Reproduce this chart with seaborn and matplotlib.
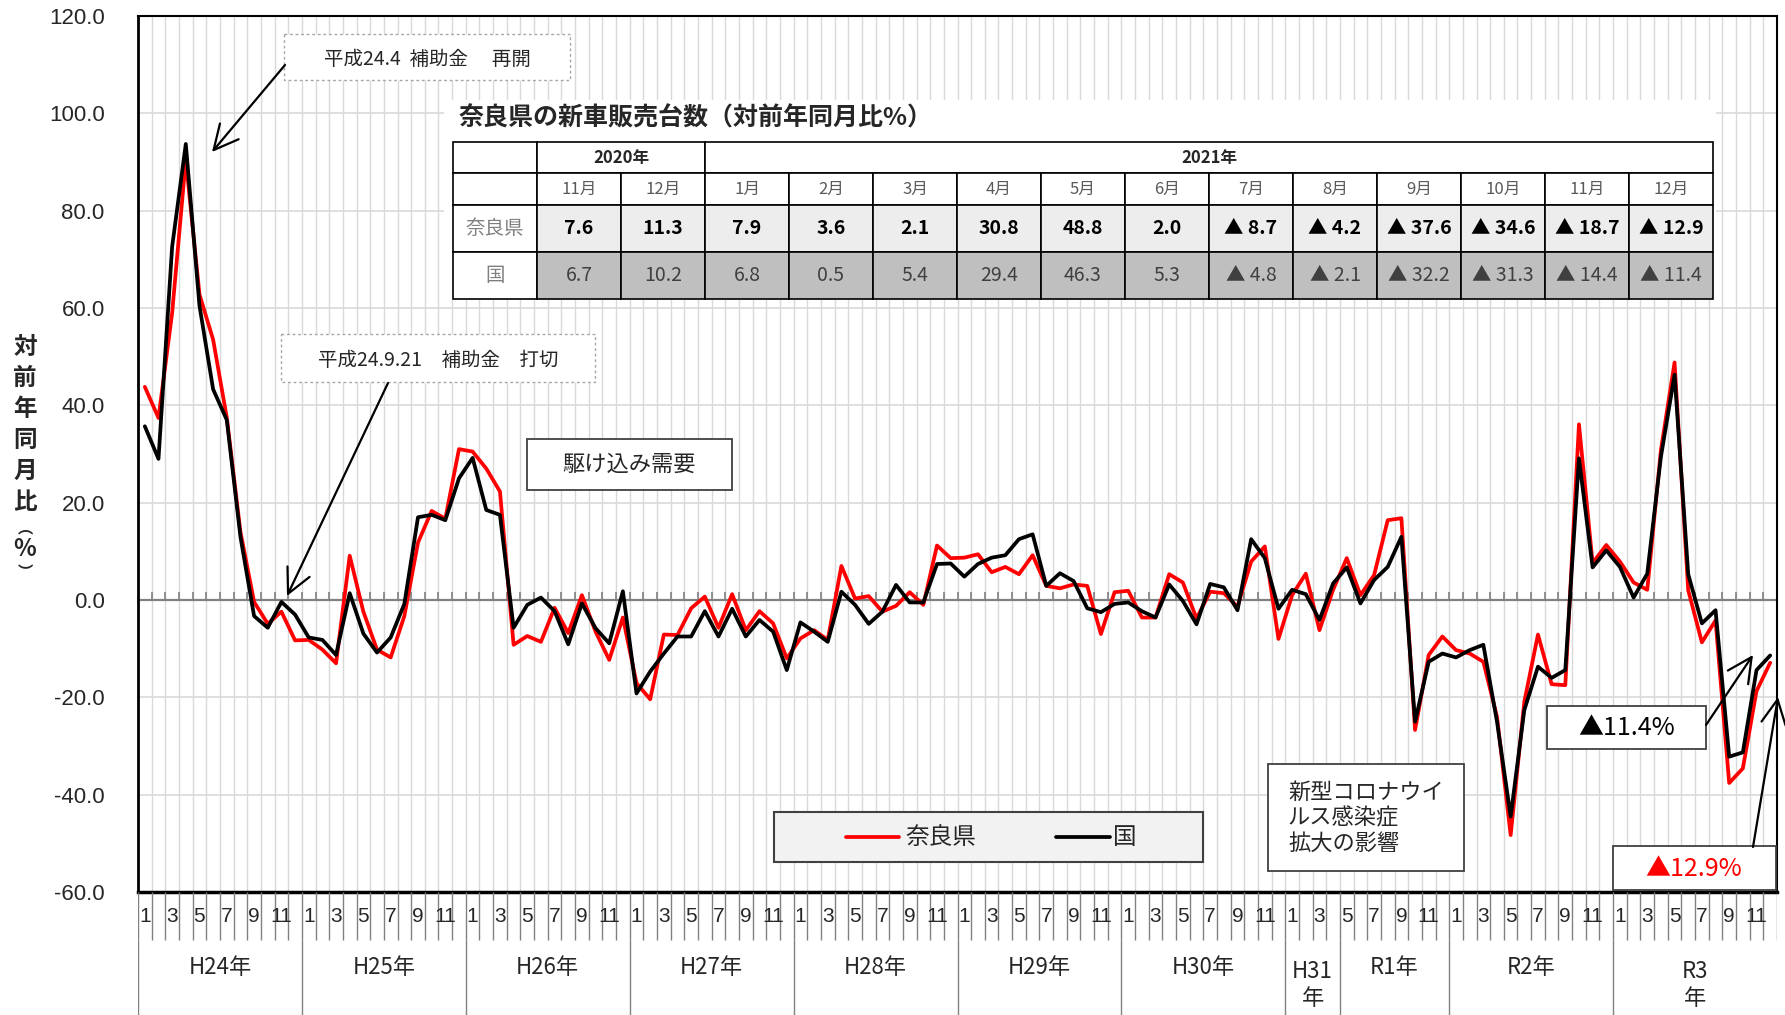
import matplotlib
matplotlib.use("Agg")
import numpy as np
import pandas as pd
import seaborn as sns
from matplotlib import pyplot as plt
from matplotlib.patches import Rectangle

# 対前年同月比 (%), H24.1 - R3.12
nara = [43.8, 37.4, 59.0, 90.5, 62.8, 53.5, 37.5, 14.0, -0.4, -4.9, -2.4, -8.3,
        -8.2, -10.2, -13.0, 9.1, -2.4, -10.2, -11.8, -3.3, 11.8, 18.3, 16.7, 31.0,
        30.5, 27.0, 22.3, -9.2, -7.4, -8.6, -1.6, -6.8, 1.0, -6.5, -12.3, -3.6,
        -17.1, -20.4, -7.1, -7.2, -1.7, 0.7, -5.7, 1.2, -6.2, -2.3, -4.8, -12.0,
        -7.9, -6.2, -8.2, 7.0, 0.3, 0.8, -2.4, -1.2, 1.6, -1.0, 11.2, 8.6,
        8.7, 9.4, 5.7, 6.8, 5.3, 9.2, 2.9, 2.4, 3.2, 2.9, -7.0, 1.6,
        1.9, -3.6, -3.6, 5.3, 3.6, -3.8, 1.7, 1.4, -1.4, 7.9, 11.0, -8.0,
        1.0, 5.4, -6.2, 2.1, 8.6, 1.0, 5.1, 16.4, 16.8, -26.7, -11.3, -7.5,
        -10.3, -11.0, -12.7, -24.0, -48.3, -20.9, -7.1, -17.3, -17.5, 36.1, 7.6, 11.3,
        7.9, 3.6, 2.1, 30.8, 48.8, 2.0, -8.7, -4.2, -37.6, -34.6, -18.7, -12.9]
kuni = [35.7, 29.0, 72.6, 93.7, 60.5, 43.3, 37.0, 13.0, -3.3, -5.7, -0.4, -3.0,
        -7.7, -8.2, -11.3, 1.4, -6.9, -10.8, -7.7, -0.8, 17.0, 17.5, 16.4, 25.0,
        29.2, 18.5, 17.5, -5.7, -1.0, 0.5, -2.3, -9.1, -0.7, -5.8, -8.9, 1.8,
        -19.2, -14.7, -11.0, -7.5, -7.5, -2.3, -7.5, -1.8, -7.5, -4.1, -6.5, -14.4,
        -4.6, -6.5, -8.6, 1.7, -1.0, -4.9, -2.4, 3.1, -0.5, -0.5, 7.4, 7.5,
        4.8, 7.4, 8.7, 9.2, 12.5, 13.5, 2.9, 5.5, 3.9, -1.7, -2.5, -0.8,
        -0.5, -2.3, -3.6, 3.2, -0.2, -5.0, 3.3, 2.6, -2.1, 12.5, 8.6, -1.8,
        2.1, 1.2, -4.1, 3.4, 6.7, -0.7, 4.1, 6.8, 13.0, -25.0, -12.7, -11.0,
        -11.8, -10.3, -9.2, -25.0, -44.5, -22.6, -13.7, -16.0, -14.4, 29.1, 6.7, 10.2,
        6.8, 0.5, 5.4, 29.4, 46.3, 5.3, -4.8, -2.1, -32.2, -31.3, -14.4, -11.4]

series_names = ['奈良県', '国']
series_colors = ['#ff0000', '#000000']
year_labels = ['H24年', 'H25年', 'H26年', 'H27年', 'H28年', 'H29年', 'H30年',
               'H31\n年', 'R1年', 'R2年', 'R3\n年']
year_months = [12, 12, 12, 12, 12, 12, 12, 4, 8, 12, 12]
month_ticks = ['1', '', '3', '', '5', '', '7', '', '9', '', '11', '']
y_ticks = [-60, -40, -20, 0, 20, 40, 60, 80, 100, 120]
ylabel_chars = ['対', '前', '年', '同', '月', '比', '︵', '%', '︶']
table_title = '奈良県の新車販売台数（対前年同月比%）'
table_years = ['2020年', '2021年']
table_year_cols = [2, 12]
table_months = ['11月', '12月', '1月', '2月', '3月', '4月', '5月', '6月',
                '7月', '8月', '9月', '10月', '11月', '12月']

W, H = 1785, 1015
sns.set_style('white')
plt.rcParams['font.family'] = ['Noto Sans CJK JP', 'DejaVu Sans']
plt.rcParams['axes.unicode_minus'] = False

fig = plt.figure(figsize=(W / 100, H / 100), dpi=100)
L, R, T, B = 138, 1777, 16, 892
ax = fig.add_axes([L / W, 1 - B / H, (R - L) / W, (B - T) / H])

n = len(nara)
df = pd.DataFrame({
    'pos': np.tile(np.arange(n) + 0.5, 2),
    'value': nara + kuni,
    'series': [series_names[0]] * n + [series_names[1]] * n,
})
sns.lineplot(data=df, x='pos', y='value', hue='series', hue_order=series_names,
             palette=dict(zip(series_names, series_colors)), lw=2.7,
             errorbar=None, legend=False, ax=ax, zorder=3)

ax.set_xlim(0, n)
ax.set_ylim(-60, 120)
ax.vlines(np.arange(1, n), -60, 120, color='#d9d9d9', lw=1, zorder=0)
ax.hlines([v for v in y_ticks if v not in (0, -60, 120)], 0, n, color='#d9d9d9', lw=1.2, zorder=0)
ax.axhline(0, color='#808080', lw=1.6, zorder=1)
ax.vlines(np.arange(1, n), 0, 1.6, color='#808080', lw=1.2, zorder=1)
ax.set_xticks([])
ax.set_yticks(y_ticks)
ax.set_yticklabels([f'{v:.1f}' for v in y_ticks], family='Liberation Sans', fontsize=16)
ax.tick_params(axis='y', length=0, pad=24)
ax.set_xlabel('')
ax.set_ylabel('')
for side, w in [('left', 2), ('bottom', 2.5), ('top', 1.5), ('right', 1.5)]:
    ax.spines[side].set_color('black')
    ax.spines[side].set_linewidth(w)

# month / year label rows under the plot
lab = fig.add_axes([L / W, 0, (R - L) / W, (H - B) / H])
lab.set_xlim(0, n)
lab.set_ylim(0, H - B)
lab.axis('off')
row_top, row_mid = H - B, H - B - 48
lab.vlines(np.arange(0, n + 1), row_mid, row_top, color='#808080', lw=1)
for i in range(n):
    lab.text(i + 0.5, row_mid + 24, month_ticks[i % 12], ha='center', va='center',
             family='Liberation Sans', fontsize=15)
start = 0
lab.vlines([0], 0, row_mid, color='#808080', lw=1)
for lbl, m in zip(year_labels, year_months):
    end = start + m
    if end < n:
        lab.vlines([end], 0, row_mid, color='#808080', lw=1)
    if '\n' in lbl:
        lab.text((start + end) / 2, 30, lbl, ha='center', va='center', fontsize=16, linespacing=1.25)
    else:
        lab.text((start + end) / 2, 47, lbl, ha='center', va='center', fontsize=16)
    start = end

# overlay in pixel coordinates
ov = fig.add_axes([0, 0, 1, 1], zorder=5)
ov.set_xlim(0, W)
ov.set_ylim(H, 0)
ov.axis('off')
ov.patch.set_alpha(0)

y_pos = [347, 378, 409, 440, 471, 502, 527, 549, 572]
y_size = [17, 17, 17, 17, 17, 17, 11, 17, 11]
for ch, yy, fs in zip(ylabel_chars, y_pos, y_size):
    ov.text(25, yy, ch, ha='center', va='center', fontsize=fs, fontweight='bold')


def box(x0, y0, x1, y1, ls='-', ec='#404040', fc='white', lw=1.3):
    ov.add_patch(Rectangle((x0, y0), x1 - x0, y1 - y0, facecolor=fc, edgecolor=ec, lw=lw, ls=ls))


arrow = dict(arrowstyle='->,head_length=0.8,head_width=0.4', color='black', lw=1.6,
             shrinkA=0, shrinkB=0, mutation_scale=22)

box(284, 34, 570, 80, ls=(0, (2, 2)), ec='#a6a6a6', lw=1)
ov.text(427, 59, '平成24.4  補助金　 再開', ha='center', va='center', fontsize=14)
ov.annotate('', xy=(212, 152), xytext=(285, 65), arrowprops=arrow)

box(281, 334, 595, 382, ls=(0, (2, 2)), ec='#a6a6a6', lw=1)
ov.text(438, 360, '平成24.9.21　補助金　打切', ha='center', va='center', fontsize=14)
ov.annotate('', xy=(287, 596), xytext=(388, 383), arrowprops=arrow)

box(527, 439, 732, 490)
ov.text(629.5, 464, '駆け込み需要', ha='center', va='center', fontsize=16)

box(1268, 764, 1464, 871)
ov.text(1288, 818, '新型コロナウイ\nルス感染症\n拡大の影響', ha='left', va='center',
        fontsize=16, linespacing=1.15)

box(1547, 706, 1706, 749)
ov.text(1627, 728, '▲11.4%', ha='center', va='center', fontsize=18, color='black')
ov.annotate('', xy=(1753, 655), xytext=(1706, 725), arrowprops=arrow)

box(1613, 846, 1776, 890)
ov.text(1694, 869, '▲12.9%', ha='center', va='center', fontsize=18, color='#ff0000')
ov.annotate('', xy=(1778, 697), xytext=(1753, 847), arrowprops=arrow)

# legend
box(774, 812, 1203, 862, fc='#f2f2f2', ec='#404040', lw=1.5)
ov.plot([846, 899], [837, 837], color=series_colors[0], lw=2.7)
ov.text(905, 837, series_names[0], ha='left', va='center', fontsize=17)
ov.plot([1056, 1110], [837, 837], color=series_colors[1], lw=2.7)
ov.text(1113, 837, series_names[1], ha='left', va='center', fontsize=17)

# table
box(444, 100, 1716, 300, ec='none')
ov.text(459, 118, table_title, ha='left', va='center', fontsize=18, fontweight='bold')
tx0, cw = 453, 84
rows = [142, 173, 205, 252, 299]
ncol = len(table_months)
box(tx0, rows[0], tx0 + cw, rows[1], ec='black', lw=1.2)
box(tx0, rows[1], tx0 + cw, rows[2], ec='black', lw=1.2)
c = 1
for yl, span in zip(table_years, table_year_cols):
    box(tx0 + c * cw, rows[0], tx0 + (c + span) * cw, rows[1], ec='black', lw=1.2)
    ov.text(tx0 + (c + span / 2) * cw, (rows[0] + rows[1]) / 2, yl, ha='center', va='center',
            fontsize=12, fontweight='bold')
    c += span
for j, mlab in enumerate(table_months):
    x0 = tx0 + (j + 1) * cw
    box(x0, rows[1], x0 + cw, rows[2], ec='black', lw=1.2)
    ov.text(x0 + cw / 2, (rows[1] + rows[2]) / 2, mlab, ha='center', va='center',
            fontsize=12, color='#595959')


def fmt(v):
    return f'{v:.1f}' if v >= 0 else f'▲ {-v:.1f}'


row_vals = [nara[-ncol:], kuni[-ncol:]]
row_fill = ['#ededed', '#bfbfbf']
row_weight = ['bold', 'normal']
row_color = ['black', '#404040']
for r, (name, vals) in enumerate(zip(series_names, row_vals)):
    y0, y1 = rows[2 + r], rows[3 + r]
    box(tx0, y0, tx0 + cw, y1, ec='black', lw=1.2)
    ov.text(tx0 + cw / 2, (y0 + y1) / 2, name, ha='center', va='center', fontsize=14, color='#7f7f7f')
    for j, v in enumerate(vals):
        x0 = tx0 + (j + 1) * cw
        box(x0, y0, x0 + cw, y1, fc=row_fill[r], ec='black', lw=1.2)
        ov.text(x0 + cw / 2, (y0 + y1) / 2, fmt(v), ha='center', va='center',
                fontsize=14, fontweight=row_weight[r], color=row_color[r])

fig.savefig('out.png', dpi=100)
